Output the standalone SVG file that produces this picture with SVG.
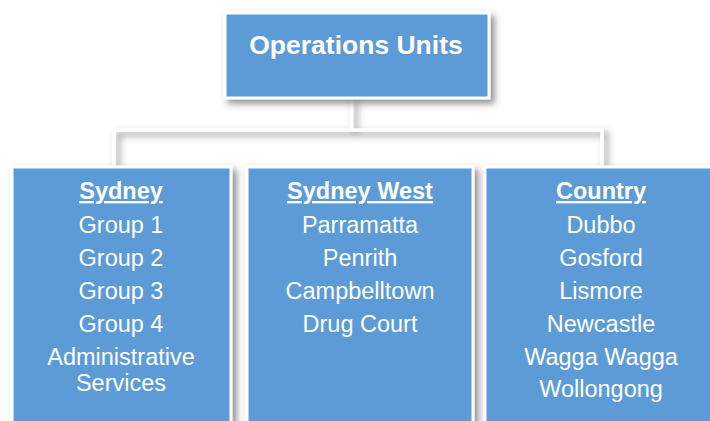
<svg xmlns="http://www.w3.org/2000/svg" width="710" height="421" viewBox="0 0 710 421">
<defs>
<filter id="sh" x="-20%" y="-20%" width="140%" height="140%">
<feDropShadow dx="4" dy="4" stdDeviation="3.5" flood-color="#404040" flood-opacity="0.6"/>
</filter>
</defs>
<style>
.box{fill:#5B9BD5;stroke:#FFFFFF;stroke-width:3;filter:url(#sh)}
.conn{fill:none;stroke:#FFFFFF;stroke-width:3.5;filter:url(#sh)}
text{font-family:"Liberation Sans",Arial,sans-serif;fill:#FFFFFF;text-anchor:middle}
.title{font-size:26.5px;font-weight:bold}
.head{font-size:23.5px;font-weight:bold;text-decoration:underline}
.item{font-size:23.5px}
</style>
<rect width="710" height="421" fill="#FFFFFF"/>
<g id="connectors">
<path class="conn" d="M351.5 98 V130 M114 168 V130 H602 V168"/>
</g>
<g id="operations-units">
<rect class="box" x="225" y="13" width="264" height="85"/>
<text class="title" x="356" y="54">Operations Units</text>
</g>
<g id="sydney">
<rect class="box" x="12" y="167" width="219" height="280"/>
<text class="head" x="121" y="199">Sydney</text>
<text class="item" x="121" y="233">Group 1</text>
<text class="item" x="121" y="266">Group 2</text>
<text class="item" x="121" y="299">Group 3</text>
<text class="item" x="121" y="332">Group 4</text>
<text class="item" x="121" y="365">Administrative</text>
<text class="item" x="121" y="391">Services</text>
</g>
<g id="sydney-west">
<rect class="box" x="247" y="167" width="226" height="280"/>
<text class="head" x="360" y="199">Sydney West</text>
<text class="item" x="360" y="233">Parramatta</text>
<text class="item" x="360" y="266">Penrith</text>
<text class="item" x="360" y="299">Campbelltown</text>
<text class="item" x="360" y="332">Drug Court</text>
</g>
<g id="country">
<rect class="box" x="485" y="167" width="240" height="280"/>
<text class="head" x="601" y="199">Country</text>
<text class="item" x="601" y="233">Dubbo</text>
<text class="item" x="601" y="266">Gosford</text>
<text class="item" x="601" y="299">Lismore</text>
<text class="item" x="601" y="332">Newcastle</text>
<text class="item" x="601" y="365">Wagga Wagga</text>
<text class="item" x="601" y="397">Wollongong</text>
</g>
</svg>
